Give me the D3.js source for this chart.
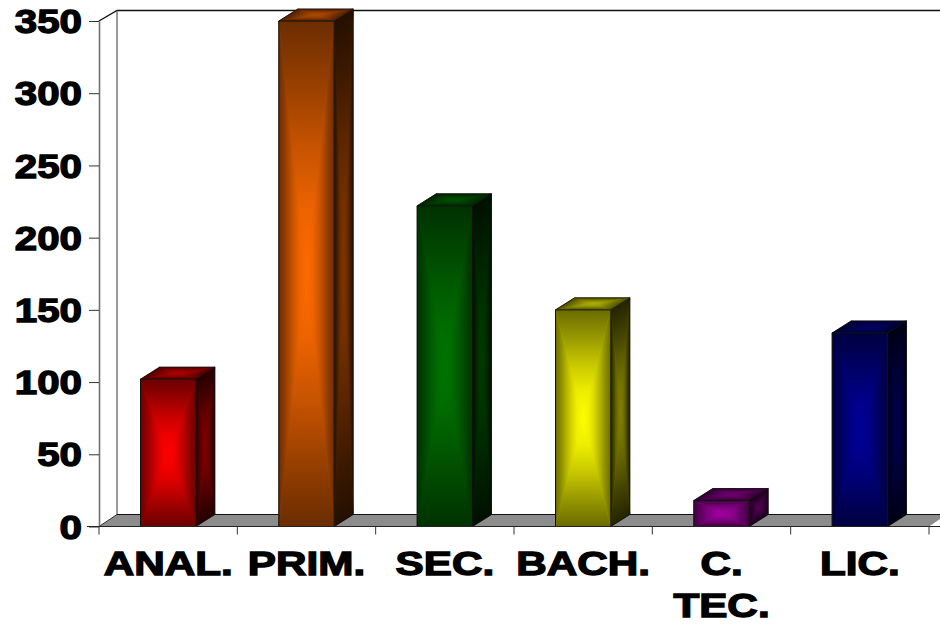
<!DOCTYPE html>
<html>
<head>
<meta charset="utf-8">
<script src="https://cdn.jsdelivr.net/npm/d3@7/dist/d3.min.js"></script>
<style>
  html, body { margin: 0; padding: 0; background: #fff; }
  svg { display: block; }
  text { font-family: "Liberation Sans", Arial, sans-serif; font-weight: 700; fill: #000; stroke: #000; stroke-width: 1.3px; }
</style>
</head>
<body>
<svg id="chart" width="940" height="626"></svg>
<script>
// Schooling levels and head counts
const categories = ["ANAL.", "PRIM.", "SEC.", "BACH.", "C. TEC.", "LIC."];
const values = [102, 350, 222, 150, 18, 134];
const yTicks = [0, 50, 100, 150, 200, 250, 300, 350];
const barColors = ["#ff0000", "#ff6a00", "#007400", "#ffff00", "#a000a0", "#000096"];

const width = 940, height = 626;
const plot = { left: 99, right: 929, top: 21, bottom: 526.5 };
const depth = { dx: 19, dy: 12 };
const tickStretch = 1.24, labelStretch = 1.3;

const svg = d3.select("#chart");
const defs = svg.append("defs");

const x = d3.scaleBand().domain(categories).range([plot.left, plot.right])
  .paddingInner(0.6).paddingOuter(0.3);
const y = d3.scaleLinear().domain([0, 350]).range([plot.bottom, plot.top]);

const polyPath = pts => "M" + pts.map(p => p.join(",")).join("L") + "Z";
const shade = (hex, k) => {
  const c = d3.rgb(hex);
  return d3.rgb(c.r * k, c.g * k, c.b * k).formatHex();
};

// Back wall and floor of the 3D box
const wall = svg.append("g");
wall.append("path")
  .attr("d", polyPath([
    [plot.left, plot.bottom],
    [plot.left + depth.dx - 1, plot.bottom - depth.dy],
    [width + 2, plot.bottom - depth.dy],
    [width + 2, plot.bottom - 9],
    [plot.right, plot.bottom]
  ]))
  .attr("fill", "#8c8c8c");
wall.append("path")
  .attr("d", `M${plot.left},${plot.top}L${plot.left + 18},${plot.top - 10.5}H${width}`)
  .attr("fill", "none").attr("stroke", "#111").attr("stroke-width", 1.4);
wall.append("line")
  .attr("x1", plot.left + 18).attr("x2", plot.left + 18)
  .attr("y1", plot.top - 10.5).attr("y2", plot.bottom - depth.dy)
  .attr("stroke", "#555").attr("stroke-width", 1.2);
wall.append("line")
  .attr("x1", plot.left + 18).attr("x2", width)
  .attr("y1", plot.bottom - depth.dy).attr("y2", plot.bottom - depth.dy)
  .attr("stroke", "#111").attr("stroke-width", 1);
wall.append("line")
  .attr("x1", plot.left).attr("x2", plot.left + 18)
  .attr("y1", plot.bottom).attr("y2", plot.bottom - depth.dy)
  .attr("stroke", "#333").attr("stroke-width", 1);

// A quad filled with a rectangular "from centre" gradient: four triangles,
// each shading from one edge inwards to the quad's centre.
let gradId = 0;
function gradientFace(group, corners, color, edgeK, centerK) {
  const cx = d3.mean(corners, p => p[0]);
  const cy = d3.mean(corners, p => p[1]);
  const level = f => shade(color, edgeK + (centerK - edgeK) * f);
  group.append("path").attr("d", polyPath(corners)).attr("fill", level(0.6));
  corners.forEach((a, i) => {
    const b = corners[(i + 1) % corners.length];
    const ex = b[0] - a[0], ey = b[1] - a[1];
    const t = ((cx - a[0]) * ex + (cy - a[1]) * ey) / (ex * ex + ey * ey);
    const id = "face" + (gradId++);
    const grad = defs.append("linearGradient").attr("id", id)
      .attr("gradientUnits", "userSpaceOnUse")
      .attr("x1", a[0] + t * ex).attr("y1", a[1] + t * ey)
      .attr("x2", cx).attr("y2", cy);
    [[0, 0], [0.25, 0.3], [0.5, 0.62], [0.75, 0.88], [1, 1]].forEach(([offset, f]) => {
      grad.append("stop").attr("offset", offset).attr("stop-color", level(f));
    });
    group.append("path")
      .attr("d", polyPath([a, b, [cx, cy]]))
      .attr("fill", `url(#${id})`)
      .attr("stroke", `url(#${id})`).attr("stroke-width", 0.4);
  });
}

// Bars: front, right side and top faces
const bars = svg.append("g");
categories.forEach((cat, i) => {
  const color = barColors[i];
  const x0 = x(cat), x1 = x0 + x.bandwidth();
  const yT = y(values[i]), yB = y(0);
  const { dx, dy } = depth;
  const g = bars.append("g");

  const side = [[x1, yT], [x1 + dx, yT - dy], [x1 + dx, yB - dy], [x1, yB]];
  const top = [[x0, yT], [x0 + dx, yT - dy], [x1 + dx, yT - dy], [x1, yT]];
  const front = [[x0, yT], [x1, yT], [x1, yB], [x0, yB]];

  gradientFace(g, side, color, 0.14, 0.5);
  gradientFace(g, top, color, 0.3, 0.68);
  gradientFace(g, front, color, 0.42, 1);

  const edges = `M${x1},${yT}L${x1 + dx},${yT - dy}M${x0},${yT}L${x0 + dx},${yT - dy}H${x1 + dx}V${yB - dy}L${x1},${yB}`;
  g.append("path").attr("d", polyPath(front)).attr("fill", "none").attr("stroke", "#111").attr("stroke-width", 1);
  g.append("path").attr("d", edges).attr("fill", "none").attr("stroke", "#111").attr("stroke-width", 0.8);
});

// Value axis
const yAxis = svg.append("g")
  .attr("transform", `translate(${plot.left},0)`)
  .call(d3.axisLeft(y).tickValues(yTicks).tickSize(10).tickPadding(10).tickSizeOuter(0));
yAxis.select(".domain").attr("stroke", "#707070").attr("stroke-width", 1.6);
yAxis.selectAll(".tick line").attr("stroke", "#333").attr("stroke-width", 1);
yAxis.selectAll("text")
  .attr("x", -17 / tickStretch)
  .attr("transform", `scale(${tickStretch},1)`)
  .attr("dy", "0.36em")
  .style("font-size", "32.5px");

// Category axis: labels at the bar centres, ticks on the band boundaries
const xAxis = svg.append("g")
  .attr("transform", `translate(0,${plot.bottom})`)
  .call(d3.axisBottom(x).tickSize(0).tickFormat(""));
xAxis.select(".domain").remove();
xAxis.append("line")
  .attr("x1", plot.left - 12).attr("x2", width)
  .attr("stroke", "#222").attr("stroke-width", 1.2);
xAxis.selectAll(".tickmark")
  .data(d3.range(categories.length + 1))
  .join("line")
  .attr("class", "tickmark")
  .attr("x1", i => plot.left + i * x.step())
  .attr("x2", i => plot.left + i * x.step())
  .attr("y2", 8)
  .attr("stroke", "#333").attr("stroke-width", 1);

const labels = svg.append("g").selectAll("g")
  .data(categories)
  .join("g")
  .attr("transform", d => `translate(${x(d) + x.bandwidth() / 2},0) scale(${labelStretch},1)`);
labels.each(function (d) {
  const lines = d.split(" ");
  const t = d3.select(this).append("text")
    .attr("text-anchor", "middle")
    .style("font-size", "32.5px");
  t.selectAll("tspan").data(lines).join("tspan")
    .attr("x", 0)
    .attr("y", (_, i) => 575 + i * 42)
    .text(l => l);
});
</script>
</body>
</html>
